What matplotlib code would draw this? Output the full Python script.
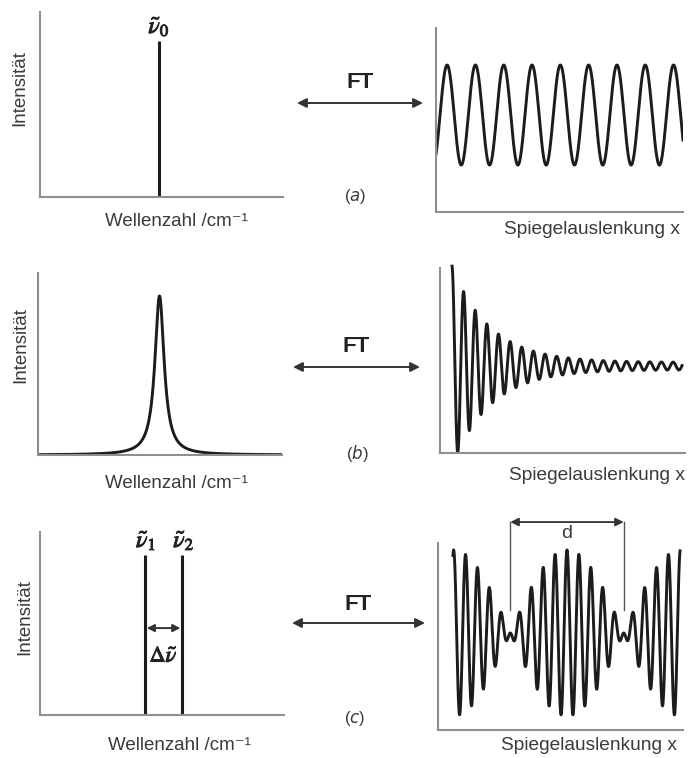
import matplotlib
matplotlib.use('Agg')
import matplotlib.pyplot as plt
import matplotlib.patheffects as pe
from matplotlib.transforms import blended_transform_factory
import numpy as np

# --- spectra (left column): wavenumber axis 0..100, intensity 0..1 ---
spike_pos = 49.0
spike_height = 0.843
lorentz_center = 49.8
lorentz_height = 0.874
lorentz_hwhm = 2.3
doublet_pos = [42.9, 58.4]
doublet_height = 0.874
doublet_arrow_y = 0.475

# --- interferograms (right column): mirror displacement axis 0..100 ---
cos_offset = 0.527
cos_amp = 0.272
cos_period = 11.46
cos_first_peak = 4.5

decay_start = 4.9
decay_end = 98.8
decay_offset = 0.47
decay_amp = 0.52
decay_period = 4.75
decay_length = 15.5
decay_floor = 0.02

beat_start, beat_end = 6.1, 98.8
beat_center = 52.65
beat_offset = 0.519
beat_amp = 0.444
carrier_period = 4.87
node_spacing = 46.3

panel_tags = ['(a)', '(b)', '(c)']
xlabel_left = 'Wellenzahl /cm\u207b\u00b9'
xlabel_right = 'Spiegelauslenkung x'
ylabel_left = 'Intensität'

W, H = 691, 758
LINE = '#1c1c1c'
AXC = '#8f8f8f'
TXT = '#3a3a3a'
SANS = ['Liberation Sans', 'DejaVu Sans']
BOLDEN = [pe.withStroke(linewidth=0.7, foreground='#222')]

fig = plt.figure(figsize=(W / 100, H / 100), dpi=100)
fig.patch.set_facecolor('white')

# overlay in pixel units for the free-standing labels and FT arrows
ov = fig.add_axes([0, 0, 1, 1])
ov.set_xlim(0, W)
ov.set_ylim(H, 0)
ov.axis('off')


def panel(x0, x1, ytop, ybot):
    ax = fig.add_axes([x0 / W, (H - ybot) / H, (x1 - x0) / W, (ybot - ytop) / H])
    ax.set_xlim(0, 100)
    ax.set_ylim(0, 1)
    ax.patch.set_alpha(0)
    for s in ['top', 'right']:
        ax.spines[s].set_visible(False)
    for s in ['left', 'bottom']:
        ax.spines[s].set_color(AXC)
        ax.spines[s].set_linewidth(1.5)
    ax.set_xticks([])
    ax.set_yticks([])
    return ax


axL = [panel(40, 283, 12, 197), panel(38, 282, 273, 455), panel(40, 284, 532, 715)]
axR = [panel(436, 683, 28, 212), panel(440, 685, 268, 453), panel(438, 683, 543, 730)]

# (a) single line and its cosine interferogram
axL[0].plot([spike_pos, spike_pos], [0, spike_height], color=LINE, lw=2.2, solid_capstyle='butt')
axL[0].annotate(r'$\tilde{\nu}_0$', xy=(spike_pos, spike_height), xytext=(0, 2),
                textcoords='offset points', ha='center', va='bottom',
                fontsize=17, math_fontfamily='stix', color='#222', path_effects=BOLDEN)

x = np.linspace(0, 100, 2000)
axR[0].plot(x, cos_offset + cos_amp * np.cos(2 * np.pi * (x - cos_first_peak) / cos_period),
            color=LINE, lw=2.1)

# (b) Lorentzian band and damped interferogram
xl = np.linspace(0, 100, 2000)
axL[1].plot(xl, lorentz_height * lorentz_hwhm ** 2 / ((xl - lorentz_center) ** 2 + lorentz_hwhm ** 2),
            color=LINE, lw=2.1)

xd = np.linspace(decay_start, decay_end, 2000)
t = xd - decay_start
env = decay_amp * np.exp(-t / decay_length) + decay_floor
axR[1].plot(xd, decay_offset + env * np.cos(2 * np.pi * t / decay_period),
            color=LINE, lw=2.1, clip_on=False)

# (c) doublet and beat interferogram
for p in doublet_pos:
    axL[2].plot([p, p], [0, doublet_height], color=LINE, lw=2.2, solid_capstyle='butt')
for i, p in enumerate(doublet_pos):
    axL[2].annotate(r'$\tilde{\nu}_%d$' % (i + 1), xy=(p, doublet_height), xytext=(1, 2),
                    textcoords='offset points', ha='center', va='bottom',
                    fontsize=17, math_fontfamily='stix', color='#222', path_effects=BOLDEN)
axL[2].annotate('', xy=(doublet_pos[0], doublet_arrow_y), xytext=(doublet_pos[1], doublet_arrow_y),
                arrowprops=dict(arrowstyle='<|-|>', color='#333', lw=1.4, mutation_scale=11,
                                shrinkA=1.5, shrinkB=1.5))
axL[2].text(np.mean(doublet_pos), doublet_arrow_y - 0.15, r'$\Delta\tilde{\nu}$',
            ha='center', va='center', fontsize=16, math_fontfamily='stix', color='#222',
            path_effects=BOLDEN)

xb = np.linspace(beat_start, beat_end, 3000)
u = xb - beat_center
nu_bar = 1 / carrier_period
dnu = 1 / node_spacing
nu1, nu2 = nu_bar - dnu / 2, nu_bar + dnu / 2
axR[2].plot(xb, beat_offset + beat_amp / 2 * (np.cos(2 * np.pi * nu1 * u) + np.cos(2 * np.pi * nu2 * u)),
            color=LINE, lw=2.1)

# bracket "d" between the two beat nodes
trans = blended_transform_factory(axR[2].transData, axR[2].transAxes)
nodes = [beat_center - node_spacing / 2, beat_center + node_spacing / 2]
for n in nodes:
    axR[2].plot([n, n], [0.642, 1.112], transform=trans, clip_on=False, color='#555', lw=1.0)
axR[2].annotate('', xy=(nodes[0], 1.112), xytext=(nodes[1], 1.112), xycoords=trans, textcoords=trans,
                arrowprops=dict(arrowstyle='<|-|>', color='#333', lw=1.3, mutation_scale=12,
                                shrinkA=0, shrinkB=0))
axR[2].text(beat_center, 1.053, 'd', transform=trans, ha='center', va='center',
            fontsize=14, family=SANS, color=TXT)

# axis labels
for (xp, yp) in [(176, 222), (176, 483), (179, 746)]:
    ov.text(xp, yp, xlabel_left, ha='center', va='center', family=SANS, fontsize=13.5, color=TXT)
for (xp, yp) in [(592, 230), (597, 475), (589, 746)]:
    ov.text(xp, yp, xlabel_right, ha='center', va='center', family=SANS, fontsize=13.8, color=TXT)
for (xp, yp) in [(20, 88), (21, 345), (25, 617)]:
    ov.text(xp, yp, ylabel_left, rotation=90, ha='center', va='center',
            family=SANS, fontsize=13.5, color=TXT)

# FT arrows and panel tags
for (x0, x1, ya, yt), (tx, ty), tag in zip(
        [(297, 423, 103, 82), (293, 420, 367, 347), (292, 425, 623, 605)],
        [(355, 197), (357, 453), (355, 718)], panel_tags):
    ov.annotate('', xy=(x0, ya), xytext=(x1, ya),
                arrowprops=dict(arrowstyle='<|-|>', color='#333', lw=1.4, mutation_scale=14,
                                shrinkA=0, shrinkB=0))
    ov.text((x0 + x1) / 2, yt, 'FT', ha='center', va='center', family=SANS,
            fontsize=16, fontweight='bold', color='#222')
    ov.text(tx, ty, '(' + r'$\mathit{' + tag[1] + '}$' + ')', ha='center', va='center',
            family=SANS, fontsize=12, math_fontfamily='dejavusans', color=TXT)

fig.savefig('out.png', dpi=100, facecolor='white')
